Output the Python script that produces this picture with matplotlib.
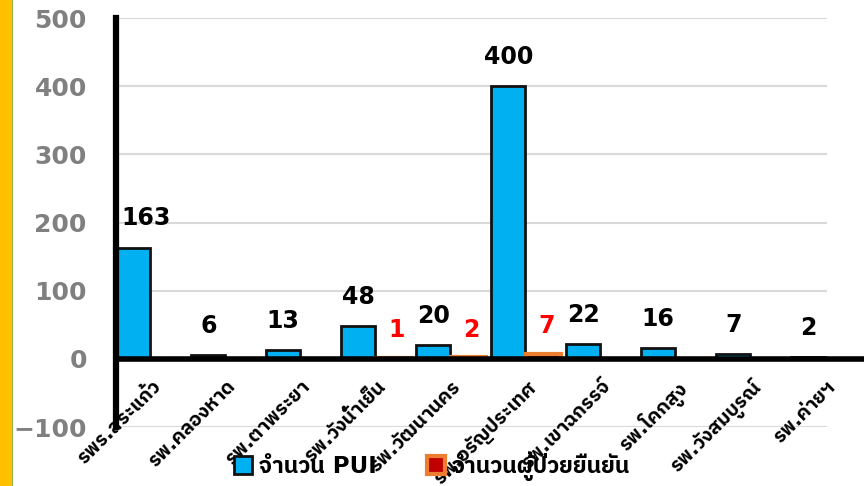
import numpy as np
import matplotlib
matplotlib.use("Agg")
import matplotlib.pyplot as plt
from matplotlib.patches import Patch, Rectangle

# ตัวอักษร: ละตินใช้ DejaVu, ภาษาไทยตกไปใช้ฟอนต์ไทยที่มีตัวหนา
plt.rcParams['font.family'] = ['DejaVu Sans', 'IBM Plex Sans Thai', 'Prompt', 'Kanit', 'Noto Sans Thai']
plt.rcParams['font.weight'] = 'bold'

# --- ข้อมูล ---
hospitals = ['รพร.สระแก้ว', 'รพ.คลองหาด', 'รพ.ตาพระยา', 'รพ.วังน้ำเย็น', 'รพ.วัฒนานคร',
             'รพ.อรัญประเทศ', 'รพ.เขาฉกรรจ์', 'รพ.โคกสูง', 'รพ.วังสมบูรณ์', 'รพ.ค่ายฯ']
pui = [163, 6, 13, 48, 20, 400, 22, 16, 7, 2]
confirmed = [0, 0, 0, 1, 2, 7, 0, 0, 0, 0]
series_names = ['จำนวน PUI', 'จำนวนผู้ป่วยยืนยัน']
yticks = [-100, 0, 100, 200, 300, 400, 500]

blue = '#00B0F0'
dark_red = '#C00000'
orange = '#ED7D31'

fig = plt.figure(figsize=(8.64, 4.86), dpi=100)
ax = fig.add_axes([116 / 864, 1 - 427 / 486, 1 - 116 / 864, (427 - 18) / 486])

x = np.arange(len(hospitals))
ax.bar(x - 0.27, pui, width=0.45, color=blue, edgecolor='#111111', linewidth=2, zorder=3)
ax.bar(x + 0.2, confirmed, width=0.47, color=dark_red, edgecolor=orange, linewidth=3, zorder=3)

# ป้ายตัวเลข
for xi, v in zip(x, pui):
    dx = 9 if xi == 0 else 0  # ป้ายแรกเลื่อนพ้นแกน
    ax.annotate(str(v), (xi - 0.27, v), xytext=(dx, 16), textcoords='offset points',
                ha='center', va='baseline', fontsize=17, fontweight='bold', color='black', zorder=5)
for xi, v in zip(x, confirmed):
    if v > 0:
        ax.annotate(str(v), (xi + 0.2, v), xytext=(2, 15), textcoords='offset points',
                    ha='center', va='baseline', fontsize=17, fontweight='bold', color='red', zorder=5)

ax.set_xlim(-0.5, -0.5 + 748 / 75)
ax.set_ylim(-100, 500)

# เส้นกริดสีเทาอ่อน
grid_end = (827 - 116) / 75 - 0.5
for yv in yticks:
    if yv != 0:
        ax.hlines(yv, -0.5, grid_end, color='#D9D9D9', linewidth=1.5, zorder=1)
ax.axhline(0, color='black', linewidth=4, zorder=4)

for s in ['top', 'right', 'bottom']:
    ax.spines[s].set_visible(False)
ax.spines['left'].set_linewidth(4.5)
ax.spines['left'].set_color('black')
ax.spines['left'].set_zorder(4)

ax.set_yticks(yticks)
ax.set_yticklabels(['\u2212100' if t < 0 else str(t) for t in yticks])
ax.tick_params(axis='y', length=0, pad=21, labelsize=18, labelcolor='#808080')
for lab in ax.get_yticklabels():
    lab.set_fontweight('bold')

# ป้ายชื่อโรงพยาบาลใต้เส้นศูนย์ เอียง 45 องศา
ax.set_xticks([])
for xi, name in zip(x, hospitals):
    ax.annotate(name, (xi, 0), xytext=(-2, -13), textcoords='offset points',
                rotation=45, ha='right', va='top', rotation_mode='anchor',
                fontsize=14, fontweight='bold', color='black', zorder=6)

handles = [Patch(facecolor=blue, edgecolor='#111111', linewidth=2),
           Patch(facecolor=dark_red, edgecolor=orange, linewidth=3)]
fig.legend(handles, series_names, loc='center', bbox_to_anchor=(0.5, 1 - 466 / 486), ncol=2,
           frameon=False, prop={'size': 16.5, 'weight': 'bold'}, handlelength=0.8,
           handleheight=0.8, handletextpad=0.3, columnspacing=2.2)

# แถบสีเหลืองด้านซ้าย
fig.patches.append(Rectangle((0, 0), 12 / 864, 1, transform=fig.transFigure,
                             facecolor='#FFC000', edgecolor='none'))
fig.patches.append(Rectangle((12 / 864, 0), 1 / 864, 1, transform=fig.transFigure,
                             facecolor='#8DB44B', edgecolor='none'))

fig.savefig('out.png', dpi=100)
